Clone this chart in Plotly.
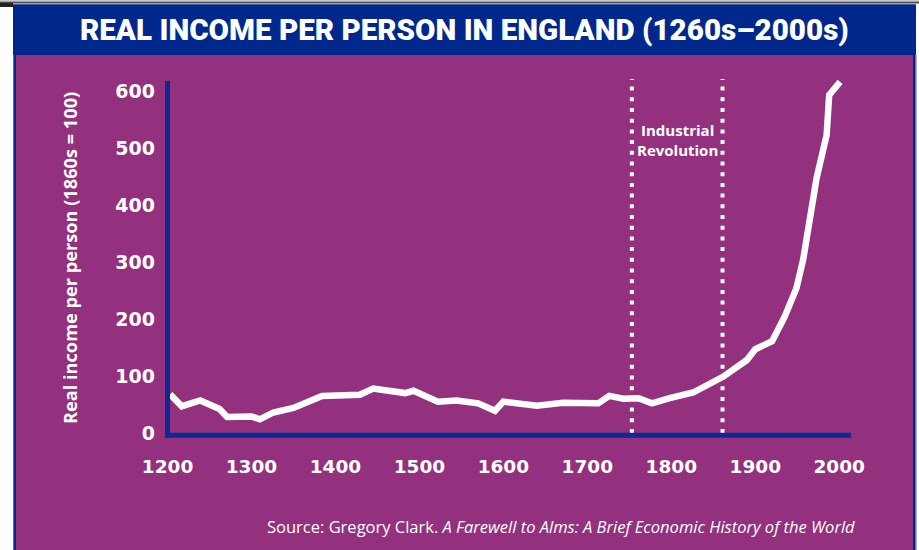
import plotly.graph_objects as go

# ---- data ----
years = [1203, 1217, 1239, 1262, 1271, 1300, 1310, 1326, 1350, 1384, 1429, 1445,
         1483, 1493, 1522, 1544, 1570, 1590, 1600, 1640, 1671, 1713, 1726, 1743,
         1761, 1777, 1798, 1826, 1862, 1890, 1900, 1920, 1935, 1949, 1957, 1965,
         1969, 1973, 1985, 1988, 2001]
income = [68, 47, 57, 42, 28, 29, 24, 36, 44, 65, 67, 78,
          70, 74, 55, 57, 52, 39, 55, 48, 53, 52, 65, 60,
          61, 52, 61, 71, 99, 128, 147, 161, 204, 254, 304, 380,
          412, 447, 523, 593, 616]
x_ticks = [1200, 1300, 1400, 1500, 1600, 1700, 1800, 1900, 2000]
y_ticks = [0, 100, 200, 300, 400, 500, 600]
ind_rev = [1753, 1861]

TITLE = "REAL INCOME PER PERSON IN ENGLAND (1260s\u20132000s)"
YTITLE = "Real income per person (1860s = 100)"
SOURCE = "Source: Gregory Clark. <i>A Farewell to Alms: A Brief Economic History of the World</i>"

# ---- styling ----
PURPLE = "#93317F"
BANNER = "#00288C"
AXIS = "#0A2A96"
WHITE = "#FFFFFF"

W, H = 919, 550
L, R, T, B = 165, 68, 76, 112
PW, PH = W - L - R, H - T - B


def px(xp):
    return (xp - L) / PW


def py(yp):
    return (H - B - yp) / PH


fig = go.Figure()
fig.add_trace(go.Scatter(
    x=years, y=income, mode="lines",
    line=dict(color=WHITE, width=6.5, shape="linear"),
    hoverinfo="skip", showlegend=False,
))

shapes = []
# page decorations
shapes.append(dict(type="rect", xref="paper", yref="paper", x0=px(0), x1=px(W), y0=py(1), y1=py(0),
                   fillcolor="#C8C8C8", line_width=0, layer="below"))
shapes.append(dict(type="rect", xref="paper", yref="paper", x0=px(0), x1=px(W), y0=py(3.5), y1=py(1.5),
                   fillcolor="#4A4A4A", line_width=0, layer="below"))
shapes.append(dict(type="rect", xref="paper", yref="paper", x0=px(0), x1=px(13), y0=py(7), y1=py(3),
                   fillcolor="#222222", line_width=0, layer="below"))
# frame borders
shapes.append(dict(type="rect", xref="paper", yref="paper", x0=px(13), x1=px(916), y0=py(H), y1=py(4.3),
                   fillcolor=BANNER, line_width=0, layer="below"))
shapes.append(dict(type="rect", xref="paper", yref="paper", x0=px(13), x1=px(14), y0=py(H), y1=py(55),
                   fillcolor="#5C6FB8", line_width=0, layer="below"))
shapes.append(dict(type="rect", xref="paper", yref="paper", x0=px(915), x1=px(916.5), y0=py(H), y1=py(55),
                   fillcolor="#5C6FB8", line_width=0, layer="below"))
# purple panel
shapes.append(dict(type="rect", xref="paper", yref="paper", x0=px(16), x1=px(913), y0=py(H), y1=py(55),
                   fillcolor=PURPLE, line_width=0, layer="below"))
# Industrial Revolution dotted lines
for yr in ind_rev:
    shapes.append(dict(type="line", xref="x", yref="y", x0=yr, x1=yr, y0=0, y1=621,
                       line=dict(color=WHITE, width=4, dash="4px,6.7px"), layer="below"))
# axis lines
shapes.append(dict(type="line", xref="x", yref="paper", x0=1200, x1=1200, y0=0, y1=py(81),
                   line=dict(color=AXIS, width=5), layer="above"))
shapes.append(dict(type="line", xref="paper", yref="y", x0=0, x1=1, y0=-4, y1=-4,
                   line=dict(color=AXIS, width=5), layer="above"))

annotations = [
    dict(text=TITLE, xref="paper", yref="paper", x=px(464), y=py(30), xanchor="center", yanchor="middle",
         showarrow=False, font=dict(family="Roboto", size=29.6, color=WHITE, weight=900)),
    dict(text=YTITLE, xref="paper", yref="paper", x=px(70), y=py(258), xanchor="center", yanchor="middle",
         textangle=-90, showarrow=False, font=dict(family="Open Sans", size=18.2, color=WHITE, weight="bold")),
    dict(text="Industrial<br>Revolution", xref="paper", yref="paper", x=px(677), y=py(140),
         xanchor="center", yanchor="middle", showarrow=False, align="center",
         font=dict(family="Open Sans", size=15, color=WHITE, weight="bold")),
    dict(text=SOURCE, xref="paper", yref="paper", x=px(857), y=py(526), xanchor="right", yanchor="middle",
         showarrow=False, font=dict(family="Open Sans", size=16.5, color=WHITE)),
]

fig.update_layout(
    width=W, height=H,
    margin=dict(l=L, r=R, t=T, b=B, pad=0),
    paper_bgcolor=WHITE,
    plot_bgcolor="rgba(0,0,0,0)",
    shapes=shapes,
    annotations=annotations,
    showlegend=False,
    xaxis=dict(range=[1197, 2014], tickvals=x_ticks, ticktext=[str(v) for v in x_ticks],
               showgrid=False, zeroline=False, showline=False, ticks="",
               ticklabelstandoff=15,
               tickfont=dict(family="DejaVu Sans", size=18.5, color=WHITE, weight="bold")),
    yaxis=dict(range=[-8.8, 626.3], tickvals=y_ticks, ticktext=[str(v) for v in y_ticks],
               showgrid=False, zeroline=False, showline=False, ticks="",
               ticklabelstandoff=9,
               tickfont=dict(family="DejaVu Sans", size=19, color=WHITE, weight="bold")),
)

fig.write_html("out.html")
